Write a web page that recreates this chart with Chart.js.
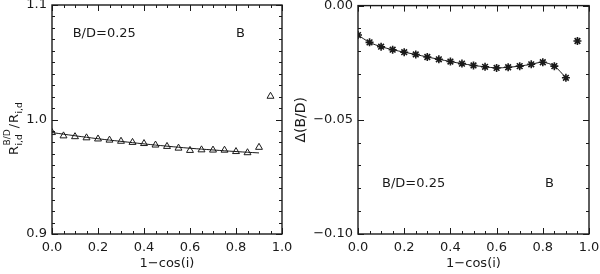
<!DOCTYPE html>
<html>
<head>
<meta charset="utf-8">
<script src="https://cdn.jsdelivr.net/npm/chart.js@4.4.1/dist/chart.umd.min.js"></script>
<style>
  html, body { margin: 0; padding: 0; background: #fff; }
  #wrap { position: relative; width: 600px; height: 274px; }
  #wrap div { position: absolute; top: 0; height: 274px; }
  #boxA { left: 0; width: 300px; }
  #boxB { left: 290px; width: 310px; }
</style>
</head>
<body>
<div id="wrap">
  <div id="boxA"><canvas id="chart_ratio"></canvas></div>
  <div id="boxB"><canvas id="chart_delta"></canvas></div>
</div>
<script>
const ratio = document.getElementById("chart_ratio");
const delta = document.getElementById("chart_delta");

// 1 - cos(i)
const incl = [0.00, 0.05, 0.10, 0.15, 0.20, 0.25, 0.30, 0.35, 0.40, 0.45,
              0.50, 0.55, 0.60, 0.65, 0.70, 0.75, 0.80, 0.85, 0.90, 0.95];
// R(B/D)_i,d / R_i,d  (triangles)
const ratioB = [0.9886, 0.9857, 0.9850, 0.9840, 0.9830, 0.9820, 0.9810, 0.9800, 0.9790, 0.9777,
                0.9765, 0.9750, 0.9730, 0.9735, 0.9733, 0.9732, 0.9720, 0.9710, 0.9757, 1.0203];
// fitted curve
const fitX = [0.0, 0.1, 0.2, 0.3, 0.4, 0.5, 0.6, 0.7, 0.8, 0.9];
const fitRatio = [0.9886, 0.9858, 0.9832, 0.9809, 0.9787, 0.9767, 0.9749, 0.9734, 0.9720, 0.9708];
// Delta(B/D)  (asterisks)
const deltaB = [-0.0129, -0.0161, -0.0180, -0.0193, -0.0204, -0.0214, -0.0225, -0.0235, -0.0245, -0.0254,
                -0.0262, -0.0268, -0.0273, -0.0270, -0.0265, -0.0257, -0.0248, -0.0265, -0.0316, -0.0155];

const xTicks = [0.0, 0.2, 0.4, 0.6, 0.8, 1.0];
const ratioTicks = [0.9, 1.0, 1.1];
const deltaTicks = [-0.10, -0.05, 0.00];

const ink = "#1a1a1a";
const fontFam = "'DejaVu Sans', sans-serif";

function pts(xs, ys) {
  return xs.map((x, i) => ({ x: x, y: ys[i] }));
}

// frame with inward ticks on all four sides + labels in the plot
const idlFrame = {
  id: "idlFrame",
  afterDraw(chart, args, opts) {
    const ctx = chart.ctx;
    const a = chart.chartArea;
    const sx = chart.scales.x, sy = chart.scales.y;
    ctx.save();
    ctx.strokeStyle = ink;
    ctx.lineWidth = 1.4;
    ctx.strokeRect(a.left, a.top, a.right - a.left, a.bottom - a.top);
    ctx.lineWidth = 1;
    ctx.beginPath();
    const nx = Math.round((sx.max - sx.min) / opts.xMinor);
    for (let i = 0; i <= nx; i++) {
      const v = sx.min + i * opts.xMinor;
      const major = Math.abs(v / opts.xMajor - Math.round(v / opts.xMajor)) < 1e-6;
      const len = major ? 6 : 3;
      const px = Math.round(sx.getPixelForValue(v)) + 0.5;
      ctx.moveTo(px, a.bottom); ctx.lineTo(px, a.bottom - len);
      ctx.moveTo(px, a.top); ctx.lineTo(px, a.top + len);
    }
    const ny = Math.round((sy.max - sy.min) / opts.yMinor);
    for (let i = 0; i <= ny; i++) {
      const v = sy.min + i * opts.yMinor;
      const major = Math.abs(v / opts.yMajor - Math.round(v / opts.yMajor)) < 1e-6;
      const len = major ? 6 : 3;
      const py = Math.round(sy.getPixelForValue(v)) + 0.5;
      ctx.moveTo(a.left, py); ctx.lineTo(a.left + len, py);
      ctx.moveTo(a.right, py); ctx.lineTo(a.right - len, py);
    }
    ctx.stroke();

    ctx.fillStyle = ink;
    ctx.font = "13px " + fontFam;
    ctx.textBaseline = "middle";
    ctx.textAlign = "left";
    (opts.notes || []).forEach((n) => {
      ctx.fillText(n.text, sx.getPixelForValue(n.x), sy.getPixelForValue(n.y));
    });
    ctx.restore();
  },
};

// rotated y title with super/subscripts for the left panel
const ratioTitle = {
  id: "ratioTitle",
  afterDraw(chart) {
    const ctx = chart.ctx;
    ctx.save();
    ctx.fillStyle = ink;
    ctx.translate(18, 155);
    ctx.rotate(-Math.PI / 2);
    ctx.textBaseline = "alphabetic";
    ctx.textAlign = "left";
    const big = "13px " + fontFam, small = "9px " + fontFam;
    let x = 0;
    ctx.font = big; ctx.fillText("R", x, 0); x += ctx.measureText("R").width + 0.5;
    ctx.font = small;
    ctx.fillText("B/D", x, -8);
    ctx.fillText("i,d", x, 4);
    x += Math.max(ctx.measureText("B/D").width, ctx.measureText("i,d").width) + 1;
    ctx.font = big; ctx.fillText("/", x, 0); x += ctx.measureText("/").width + 1;
    ctx.fillText("R", x, 0); x += ctx.measureText("R").width + 0.5;
    ctx.font = small; ctx.fillText("i,d", x, 4);
    ctx.restore();
  },
};

function xAxis() {
  return {
    type: "linear",
    min: 0,
    max: 1,
    afterBuildTicks: (s) => { s.ticks = xTicks.map((v) => ({ value: v })); },
    afterFit: (s) => { s.height = 40; s.paddingLeft = 0; s.paddingRight = 0; },
    grid: { display: false, drawTicks: false },
    border: { display: false },
    ticks: {
      padding: 6,
      color: ink,
      font: { family: fontFam, size: 13 },
      maxRotation: 0,
      callback: (v) => Number(v).toFixed(1),
    },
    title: {
      display: true,
      text: "1\u2212cos(i)",
      color: ink,
      font: { family: fontFam, size: 13 },
      padding: { top: 0, bottom: 3 },
    },
  };
}

function desenharRatio() {
  new Chart(ratio, {
    type: "scatter",
    data: {
      datasets: [
        {
          data: pts(fitX, fitRatio),
          showLine: true,
          borderColor: ink,
          borderWidth: 1,
          pointRadius: 0,
          tension: 0.4,
        },
        {
          data: pts(incl, ratioB),
          pointStyle: "triangle",
          pointRadius: 4,
          borderWidth: 1,
          borderColor: ink,
          backgroundColor: "rgba(0,0,0,0)",
        },
      ],
    },
    options: {
      responsive: false,
      animation: false,
      layout: { padding: { top: 4, right: 18, left: 0, bottom: 0 } },
      scales: {
        x: xAxis(),
        y: {
          type: "linear",
          min: 0.9,
          max: 1.1,
          afterBuildTicks: (s) => { s.ticks = ratioTicks.map((v) => ({ value: v })); },
          afterFit: (s) => { s.width = 52; s.paddingTop = 0; s.paddingBottom = 0; },
          grid: { display: false, drawTicks: false },
          border: { display: false },
          ticks: {
            padding: 5,
            color: ink,
            font: { family: fontFam, size: 13 },
            callback: (v) => Number(v).toFixed(1),
          },
        },
      },
      plugins: {
        legend: { display: false },
        tooltip: { enabled: false },
        idlFrame: {
          xMinor: 0.05, xMajor: 0.2, yMinor: 0.01, yMajor: 0.1,
          notes: [
            { x: 0.09, y: 1.0748, text: "B/D=0.25" },
            { x: 0.80, y: 1.0748, text: "B" },
          ],
        },
      },
    },
    plugins: [idlFrame, ratioTitle],
  });
}

function desenharDelta() {
  new Chart(delta, {
    type: "scatter",
    data: {
      datasets: [
        {
          data: pts(incl.slice(0, 19), deltaB.slice(0, 19)),
          showLine: true,
          borderColor: ink,
          borderWidth: 1,
          pointRadius: 0,
          tension: 0.3,
        },
        {
          data: pts(incl, deltaB),
          pointStyle: "star",
          pointRadius: 4,
          borderWidth: 1.6,
          borderColor: ink,
          backgroundColor: ink,
        },
      ],
    },
    options: {
      responsive: false,
      animation: false,
      layout: { padding: { top: 4, right: 11, left: 0, bottom: 0 } },
      scales: {
        x: xAxis(),
        y: {
          type: "linear",
          min: -0.1,
          max: 0,
          afterBuildTicks: (s) => { s.ticks = deltaTicks.map((v) => ({ value: v })); },
          afterFit: (s) => { s.width = 68; s.paddingTop = 0; s.paddingBottom = 0; },
          grid: { display: false, drawTicks: false },
          border: { display: false },
          ticks: {
            padding: 5,
            color: ink,
            font: { family: fontFam, size: 13 },
            callback: (v) => Math.abs(v) < 1e-9 ? "0.00" : Number(v).toFixed(2).replace("-", "\u2212"),
          },
          title: {
            display: true,
            text: "\u0394(B/D)",
            color: ink,
            font: { family: fontFam, size: 14 },
            padding: { top: 3, bottom: 0 },
          },
        },
      },
      plugins: {
        legend: { display: false },
        tooltip: { enabled: false },
        idlFrame: {
          xMinor: 0.05, xMajor: 0.2, yMinor: 0.01, yMajor: 0.05,
          notes: [
            { x: 0.104, y: -0.0778, text: "B/D=0.25" },
            { x: 0.81, y: -0.0778, text: "B" },
          ],
        },
      },
    },
    plugins: [idlFrame],
  });
}

ratio.width = 300; ratio.height = 274;
delta.width = 310; delta.height = 274;
desenharRatio();
desenharDelta();
</script>
</body>
</html>
